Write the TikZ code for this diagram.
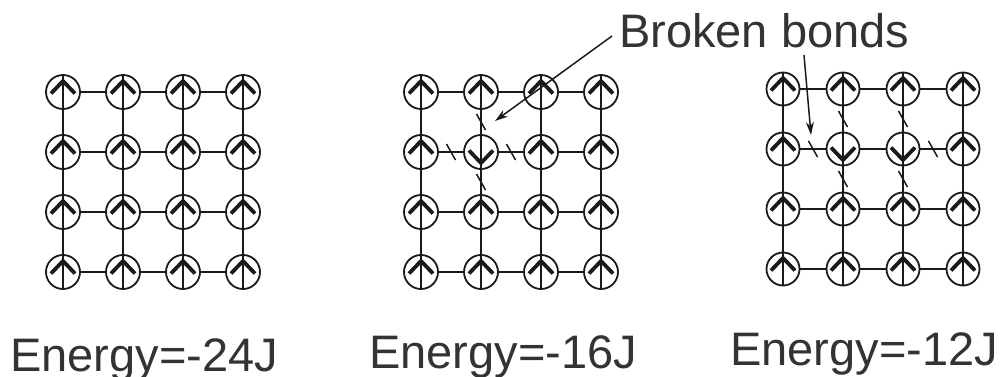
\documentclass[tikz,border=0pt]{standalone}
\usepackage{fontspec}
\setmainfont{Liberation Sans}
\usetikzlibrary{calc,arrows.meta}
\definecolor{linecol}{HTML}{1A1A1A}
\definecolor{textcol}{HTML}{333333}
\newcommand\upspin[1]{\draw[head] (#1.center) ++(-12,1.5) -- ++(12,-12.5) -- ++(12,12.5);}
\newcommand\downspin[1]{\draw[head] (#1.center) ++(-12,-1.5) -- ++(12,12.5) -- ++(12,-12.5);}
\newcommand\cutbond[2]{\draw[cut] ($(#1)!0.5!(#2)$) ++(-4.5,-8) -- ++(9,16);}
\tikzset{
  spin/.style={circle, draw=linecol, line width=1.8pt, inner sep=0pt},
  bond/.style={line width=1.8pt, draw=linecol},
  head/.style={line width=3.8pt, draw=linecol},
  cut/.style={line width=1.5pt, draw=linecol},
  pointer/.style={line width=1.5pt, draw=linecol, -{Stealth[length=13pt,width=8pt]}},
  label/.style={text=textcol, font=\fontsize{47}{52}\selectfont, inner sep=0pt, anchor=base west},
}
\begin{document}
\begin{tikzpicture}[x=1pt,y=-1pt]
\useasboundingbox (0,0) rectangle (1003,377);
% spins
\foreach \p/\xo/\yo/\dy/\s in {a/63/92/60/34, b/421/92/60/34, c/783/89/60/33} {
  \foreach \i in {1,...,4} {
    \foreach \j in {1,...,4} {
      \node[spin, minimum size=\s pt] (\p-\i-\j) at ({\xo+(\j-1)*60},{\yo+(\i-1)*\dy}) {};
    }
  }
}
% bonds
\foreach \p in {a,b,c} {
  \foreach \i in {1,...,4} {
    \foreach \j in {1,2,3} {
      \pgfmathtruncatemacro\k{\j+1}
      \draw[bond] (\p-\i-\j) -- (\p-\i-\k);
      \draw[bond] (\p-\j-\i) -- (\p-\k-\i);
    }
  }
}
% shafts
\foreach \p in {a,b,c} {
  \foreach \i in {1,...,4} {
    \foreach \j in {1,...,4} {
      \draw[bond] (\p-\i-\j.south) -- (\p-\i-\j.north);
    }
  }
}
% heads
\foreach \i in {1,...,4} {
  \foreach \j in {1,...,4} {
    \upspin{a-\i-\j}
  }
}
\foreach \n in {b-1-1,b-1-2,b-1-3,b-1-4,b-2-1,b-2-3,b-2-4,b-3-1,b-3-2,b-3-3,b-3-4,b-4-1,b-4-2,b-4-3,b-4-4} {
  \upspin{\n}
}
\foreach \n in {c-1-1,c-1-2,c-1-3,c-1-4,c-2-1,c-2-4,c-3-1,c-3-2,c-3-3,c-3-4,c-4-1,c-4-2,c-4-3,c-4-4} {
  \upspin{\n}
}
\downspin{b-2-2}
\downspin{c-2-2}
\downspin{c-2-3}
% broken bonds
\cutbond{b-1-2}{b-2-2}
\cutbond{b-2-1}{b-2-2}
\cutbond{b-2-2}{b-2-3}
\cutbond{b-2-2}{b-3-2}
\cutbond{c-2-1}{c-2-2}
\cutbond{c-1-2}{c-2-2}
\cutbond{c-2-2}{c-3-2}
\cutbond{c-1-3}{c-2-3}
\cutbond{c-2-3}{c-3-3}
\cutbond{c-2-3}{c-2-4}
% annotation
\node[label] (bb) at (619,48) {Broken bonds};
\coordinate (s1) at (612,36);
\coordinate (e1) at (495,121);
\coordinate (s2) at (804,55);
\coordinate (e2) at (811,135);
\draw[pointer] (s1) -- (e1);
\draw[pointer] (s2) -- (e2);
% energies
\node[label] (ea) at (10,371) {Energy=-24J};
\node[label] (eb) at (369,368) {Energy=-16J};
\node[label] (ec) at (730,365) {Energy=-12J};
\end{tikzpicture}
\end{document}
